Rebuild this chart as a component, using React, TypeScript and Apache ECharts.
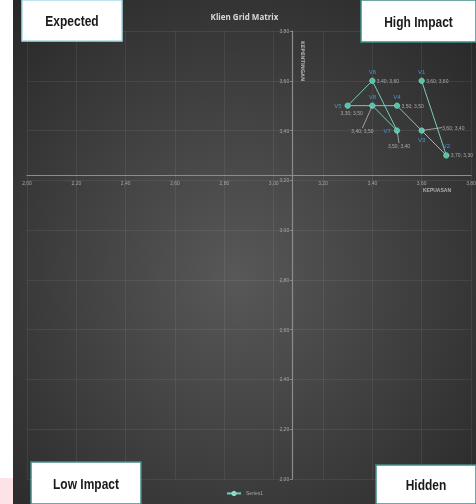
import React, { useEffect, useRef } from "react";
import * as echarts from "echarts";

const POINT_NAMES = ["V1", "V2", "V3", "V4", "V5", "V6", "V7", "V8"];
const X_VALUES = [3.6, 3.7, 3.6, 3.5, 3.3, 3.4, 3.5, 3.4];
const Y_VALUES = [3.6, 3.3, 3.4, 3.5, 3.5, 3.6, 3.4, 3.5];
const AXIS_MIN = 2.0;
const AXIS_MAX = 3.8;
const AXIS_STEP = 0.2;
const X_CROSS = 3.075;
const Y_CROSS = 3.22;
const SERIES_NAME = "Series1";
const TITLE = "Klien Grid Matrix";
const X_NAME = "KEPUASAN";
const Y_NAME = "KEPENTINGAN";
const QUADRANTS = ["Expected", "High Impact", "Low Impact", "Hidden"];

// label styling (kept apart from data)
const NAME_LABEL_POS: Record<string, string> = { V3: "bottom", V5: "left", V7: "left" };
const VALUE_LABEL_POS: Record<string, string> = { V5: "bottom", V7: "bottom", V8: "bottom" };
const VALUE_LABEL_SHIFT: Record<string, [number, number]> = {
  V3: [16, -3],
  V5: [4, 0],
  V7: [2, 8],
  V8: [-10, 18],
};
const LEADER = ["V3", "V7", "V8"];

const fmt = (v: number) => v.toFixed(2).replace(".", ",");

const W = 463;
const H = 504;
const GRID = { left: 14, right: 5, top: 31, bottom: 25 };

export default function App() {
  const ref = useRef<HTMLDivElement>(null);
  useEffect(() => {
    if (!ref.current) return;
    const chart = echarts.init(ref.current, undefined, { renderer: "svg" });
    const plotW = W - GRID.left - GRID.right;
    const plotH = H - GRID.top - GRID.bottom;
    const xOffset = -((Y_CROSS - AXIS_MIN) / (AXIS_MAX - AXIS_MIN)) * plotH;
    const yOffset = -((X_CROSS - AXIS_MIN) / (AXIS_MAX - AXIS_MIN)) * plotW;

    const lineData = POINT_NAMES.map((n, i) => ({
      name: n,
      value: [X_VALUES[i], Y_VALUES[i]],
      label: { position: NAME_LABEL_POS[n] || "top" },
    }));
    const valueData = POINT_NAMES.map((n, i) => ({
      name: n,
      value: [X_VALUES[i], Y_VALUES[i]],
      label: { position: VALUE_LABEL_POS[n] || "right" },
      labelLine: { show: LEADER.includes(n) },
    }));

    const box = (x: number, y: number, w: number, h: number, text: string, stroke: string) => ({
      type: "group",
      x,
      y,
      children: [
        { type: "rect", shape: { x: 0, y: 0, width: w, height: h }, style: { fill: "#ffffff", stroke, lineWidth: 1.5 } },
        {
          type: "text",
          x: w / 2,
          y: h / 2 + 1,
          scaleX: 0.8,
          style: {
            text,
            fill: "#1a1a1a",
            font: "bold 15px 'Liberation Sans', Arial, sans-serif",
            align: "center",
            verticalAlign: "middle",
          },
        },
      ],
    });

    const axisLabel = { color: "#a6a6a6", fontSize: 5, formatter: (v: number) => fmt(v) };

    chart.setOption({
      animation: false,
      backgroundColor: new echarts.graphic.RadialGradient(0.48, 0.55, 0.75, [
        { offset: 0, color: "#585858" },
        { offset: 1, color: "#262626" },
      ]),
      title: {
        text: TITLE,
        left: "center",
        top: 7,
        textStyle: { color: "#d9d9d9", fontSize: 8, fontWeight: "bold", fontFamily: "'Open Sans', sans-serif" },
      },
      grid: { ...GRID, containLabel: false, outerBoundsMode: "none" },
      legend: {
        data: [SERIES_NAME],
        bottom: 3,
        left: "center",
        itemWidth: 14,
        itemHeight: 4,
        textStyle: { color: "#a6a6a6", fontSize: 5 },
      },
      xAxis: {
        type: "value",
        min: AXIS_MIN,
        max: AXIS_MAX,
        interval: AXIS_STEP,
        position: "bottom",
        offset: xOffset,
        axisLine: { onZero: false, lineStyle: { color: "#8c8c8c", width: 1.2 } },
        axisTick: { show: false },
        axisLabel: { ...axisLabel, margin: 5 },
        splitLine: { show: true, lineStyle: { color: "rgba(255,255,255,0.09)", width: 0.8 } },
        name: X_NAME,
        nameLocation: "end",
        nameGap: -34,
        nameTextStyle: { color: "#b0b0b0", fontSize: 5, fontWeight: "bold", align: "center", verticalAlign: "top", padding: [12, 0, 0, 0] },
      },
      yAxis: {
        type: "value",
        min: AXIS_MIN,
        max: AXIS_MAX,
        interval: AXIS_STEP,
        position: "left",
        offset: yOffset,
        axisLine: { onZero: false, show: true, lineStyle: { color: "#8c8c8c", width: 1.2 } },
        axisTick: { show: true, length: 2, lineStyle: { color: "#8c8c8c" } },
        axisLabel: { ...axisLabel, margin: 3 },
        splitLine: { show: true, lineStyle: { color: "rgba(255,255,255,0.09)", width: 0.8 } },
      },
      graphic: [
        {
          type: "text",
          x: 290,
          y: 61,
          rotation: -Math.PI / 2,
          style: {
            text: Y_NAME,
            fill: "#b0b0b0",
            font: "bold 5px 'DejaVu Sans', sans-serif",
            align: "center",
            verticalAlign: "middle",
          },
        },
        box(9, 0, 100, 41, QUADRANTS[0], "#a9dbe8"),
        box(348, 0, 115, 42, QUADRANTS[1], "#3f8f85"),
        box(18, 462, 110, 42, QUADRANTS[2], "#3f8f85"),
        box(363, 465, 100, 39, QUADRANTS[3], "#3f8f85"),
      ],
      series: [
        {
          name: SERIES_NAME,
          type: "line",
          data: lineData,
          symbol: "circle",
          symbolSize: 5.5,
          itemStyle: { color: "#4fc4a8", borderColor: "#8ee0cc", borderWidth: 0.6 },
          lineStyle: { color: "#76cdb9", width: 1 },
          label: {
            show: true,
            formatter: (p: any) => p.name,
            color: "#4a93d0",
            fontSize: 6,
            distance: 3,
          },
          z: 3,
        },
        {
          name: "values",
          type: "scatter",
          data: valueData,
          symbolSize: 1,
          itemStyle: { color: "rgba(0,0,0,0)" },
          label: {
            show: true,
            formatter: (p: any) => `${fmt(p.value[0])}; ${fmt(p.value[1])}`,
            color: "#c4c4c4",
            fontSize: 5,
            distance: 4,
          },
          labelLine: { lineStyle: { color: "#c8c8c8", width: 0.7 } },
          labelLayout: (params: any) => {
            const n = POINT_NAMES[params.dataIndex];
            const s = VALUE_LABEL_SHIFT[n];
            return s ? { dx: s[0], dy: s[1] } : {};
          },
          z: 4,
        },
      ],
    });
    return () => chart.dispose();
  }, []);

  return (
    <>
      <div style={{ position: "fixed", left: 0, top: 478, width: 13, height: 26, background: "#fde3e5" }} />
      <div ref={ref} style={{ position: "fixed", left: 13, top: 0, width: W, height: H }} />
    </>
  );
}
